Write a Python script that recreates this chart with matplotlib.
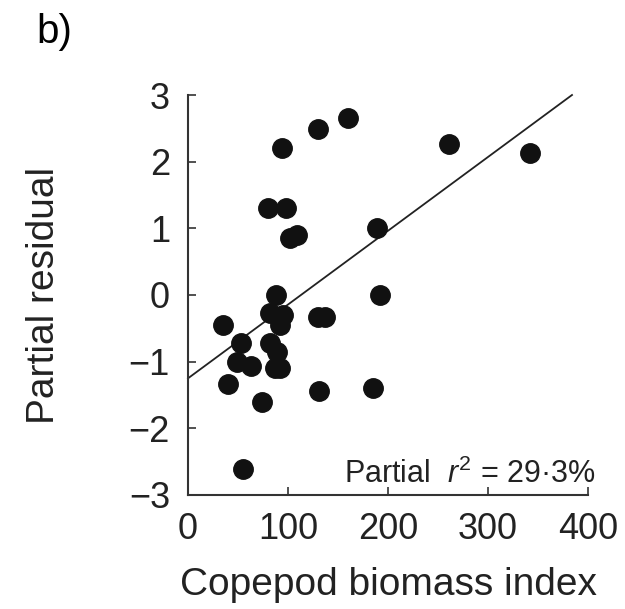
import matplotlib

matplotlib.use("Agg")
import matplotlib.pyplot as plt

plt.rcParams["font.family"] = ["Liberation Sans", "DejaVu Sans"]
plt.rcParams["mathtext.fontset"] = "custom"
plt.rcParams["mathtext.rm"] = "Liberation Sans"
plt.rcParams["mathtext.it"] = "Liberation Sans:italic"

# Copepod biomass index vs partial residual
biomass = [160, 130, 94, 261, 342, 80, 98, 102, 109, 189, 88, 192, 35, 82, 95,
           92, 130, 137, 53, 49, 63, 82, 89, 87, 92, 40, 74, 131, 185, 55]
residual = [2.65, 2.49, 2.2, 2.27, 2.13, 1.3, 1.3, 0.85, 0.9, 1.01, 0.0, 0.0,
            -0.45, -0.27, -0.3, -0.45, -0.33, -0.33, -0.72, -1.0, -1.07, -0.72,
            -0.85, -1.1, -1.1, -1.33, -1.6, -1.44, -1.4, -2.61]

# fitted line end points
fit_x = [0, 384]
fit_y = [-1.25, 3.0]

x_ticks = [0, 100, 200, 300, 400]
y_ticks = [-3, -2, -1, 0, 1, 2, 3]

fig = plt.figure(figsize=(6.25, 6.09), dpi=100)
ax = fig.add_axes([0.3008, 0.1872, 0.64, 0.6568])

ax.plot(fit_x, fit_y, color="#222222", linewidth=1.3, clip_on=False)
ax.plot(biomass, residual, "o", color="#111111", markersize=14, clip_on=False)

ax.set_xlim(0, 400)
ax.set_ylim(-3, 3)
ax.set_xticks(x_ticks)
ax.set_yticks(y_ticks)
ax.set_yticklabels([f"{t}".replace("-", "\u2212") for t in y_ticks])

for side in ("top", "right"):
    ax.spines[side].set_visible(False)
for side in ("left", "bottom"):
    ax.spines[side].set_linewidth(1.5)
    ax.spines[side].set_color("#333333")

ax.tick_params(direction="in", length=6, width=1.2, color="#333333",
               labelsize=26, labelcolor="#222222")
ax.tick_params(axis="y", pad=13)
ax.tick_params(axis="x", pad=12)

ax.set_xlabel("Copepod biomass index", fontsize=28, labelpad=15, color="#222222")
ax.set_ylabel("Partial residual", fontsize=28, labelpad=48, color="#222222")

ax.text(408, -2.82, "Partial  $r^2$ = 29\u00b73%", fontsize=22, ha="right",
        va="baseline", color="#222222")

fig.text(0.058, 0.93, "b)", fontsize=29, color="black")

fig.savefig("out.png", dpi=100)
